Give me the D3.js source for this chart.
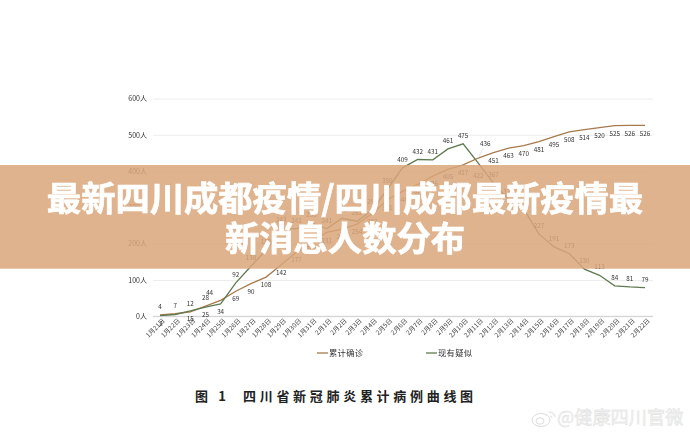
<!DOCTYPE html>
<html><head><meta charset="utf-8">
<script src="https://cdn.jsdelivr.net/npm/d3@7/dist/d3.min.js"></script>
<style>html,body{margin:0;padding:0;background:#fff;overflow:hidden}svg{display:block}text{font-family:"Noto Sans CJK SC","Noto Sans",sans-serif}</style>
</head><body><svg id="c" width="690" height="434"></svg>
<script>
const categories=["1月21日","1月22日","1月23日","1月24日","1月25日","1月26日","1月27日","1月28日","1月29日","1月30日","1月31日","2月1日","2月2日","2月3日","2月4日","2月5日","2月6日","2月7日","2月8日","2月9日","2月10日","2月11日","2月12日","2月13日","2月14日","2月15日","2月16日","2月17日","2月18日","2月19日","2月20日","2月21日","2月22日"];
const confirmed=[4,7,12,28,44,69,90,108,142,177,207,231,240,254,283,321,344,363,386,405,417,436,451,463,470,481,495,508,514,520,525,526,526];
const suspected=[2,5,15,25,34,92,138,182,243,241,258,241,270,262,293,350,409,432,431,461,475,422,367,322,295,227,191,173,130,113,84,81,79];
const yTicks=[0,100,200,300,400,500,600];
const legendNames=["累计确诊","现有疑似"];
const titleLines=["最新四川成都疫情/四川成都最新疫情最","新消息人数分布"];
const captionText="图 1  四川省新冠肺炎累计病例曲线图";
const watermark="@健康四川官微";

const svg=d3.select("#c");
const defs=svg.append("defs");
defs.append("filter").attr("id","soft").append("feGaussianBlur").attr("stdDeviation",0.3);
const chart=svg.append("g").attr("filter","url(#soft)");
const x=d3.scalePoint().domain(categories).range([160,645]);
const y=d3.scaleLinear().domain([0,600]).range([316.3,98.5]);

const yAxis=d3.axisLeft(y).tickValues(yTicks).tickFormat(d=>d+"人").tickSize(-500).tickPadding(6);
const gy=chart.append("g").attr("transform","translate(153,0)").call(yAxis);
gy.select(".domain").remove();
gy.selectAll("line").attr("stroke","#e9e9e9").attr("stroke-width",0.8);
gy.selectAll("text").attr("font-size",7).attr("fill","#333");
const xAxis=d3.axisBottom(x).tickSize(0).tickPadding(5);
const gx=chart.append("g").attr("transform","translate(0,316.3)").call(xAxis);
gx.select(".domain").attr("stroke","#cfcfcf").attr("d","M153,0H653");
gx.selectAll("text").attr("font-size",6.5).attr("fill","#444").attr("text-anchor","end").attr("dy","0.3em")
  .attr("transform","rotate(-45)");

const line=d3.line().x((d,i)=>x(categories[i])).y(d=>y(d));
const colors=["#a87a4c","#5f7a4f"];
[confirmed,suspected].forEach((s,k)=>{
  chart.append("path").datum(s).attr("fill","none").attr("stroke",colors[k]).attr("stroke-width",1.3).attr("d",line);
});
const labels=chart.append("g").attr("font-size",6.3).attr("fill","#333").attr("text-anchor","middle");
confirmed.forEach((v,i)=>{
  const dy=i==21?-14:(i<5?-8:8);
  const dx=i==4?-11:(i==21?7:0);
  labels.append("text").attr("x",x(categories[i])+dx).attr("y",y(v)+dy).attr("dy","0.35em").text(v);
  if(i==21) chart.append("line").attr("x1",x(categories[i])).attr("y1",y(v)).attr("x2",x(categories[i])+5).attr("y2",y(v)-10).attr("stroke","#ccc").attr("stroke-width",0.5);
});
suspected.forEach((v,i)=>{
  if(i==1) return;
  const dy=i==21?13:(i<5?8:-8);
  const dx=i==0?1:0;
  labels.append("text").attr("x",x(categories[i])+dx).attr("y",y(v)+dy).attr("dy","0.35em").text(v);
});
const legendX=d3.scaleOrdinal().domain(legendNames).range([317,426]);
legendNames.forEach((n,k)=>{
  const g=chart.append("g").attr("transform",`translate(${legendX(n)},353)`);
  g.append("line").attr("x2",11).attr("stroke",colors[k]).attr("stroke-width",1.3);
  g.append("text").attr("x",12).attr("dy","0.36em").attr("font-size",8.3).attr("letter-spacing",0.3).attr("fill","#333").text(n);
});
svg.append("text").attr("x",195).attr("y",401).attr("font-size",13).attr("font-weight",700).attr("letter-spacing",3.7).attr("fill","#222").style("white-space","pre").text(captionText);
const wm=svg.append("g").attr("fill","none").attr("stroke","#dcdcdc").attr("stroke-width",1);
wm.append("ellipse").attr("cx",541).attr("cy",420).attr("rx",9).attr("ry",6.5);
wm.append("ellipse").attr("cx",540).attr("cy",421).attr("rx",4).attr("ry",3.2);
wm.append("path").attr("d","M549,412a6,6 0 0 1 6,5M550,416a2.5,2.5 0 0 1 2,2");
svg.append("text").attr("x",557).attr("y",424).attr("font-size",18.2).attr("fill","#f2f2f2").attr("stroke","#dadada").attr("stroke-width",0.35).text(watermark);
svg.append("rect").attr("x",0).attr("y",165).attr("width",690).attr("height",103.7).attr("fill","rgb(217,166,122)").attr("opacity",0.85);
const tg=svg.append("g").attr("fill","#fff").attr("stroke","#fff").attr("stroke-width",0.7).attr("font-weight",700).attr("font-size",34.3).attr("text-anchor","middle");
titleLines.forEach((t,i)=>tg.append("text").attr("x",345).attr("y",198+i*40).attr("dy","0.37em").text(t));
</script></body></html>
